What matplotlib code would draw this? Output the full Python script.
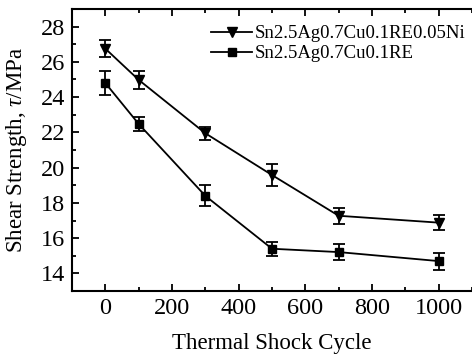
import matplotlib.pyplot as plt
from matplotlib.lines import Line2D
from matplotlib.ticker import MultipleLocator

plt.rcParams['font.family'] = ['Liberation Serif', 'DejaVu Serif']
plt.rcParams['mathtext.fontset'] = 'custom'
plt.rcParams['mathtext.it'] = 'Liberation Serif:italic'
plt.rcParams['mathtext.rm'] = 'Liberation Serif'

cycles = [0, 100, 300, 500, 700, 1000]
ni_mean = [26.75, 24.98, 21.95, 19.58, 17.27, 16.88]
ni_err = [0.5, 0.5, 0.38, 0.6, 0.45, 0.44]
re_mean = [24.8, 22.48, 18.4, 15.4, 15.21, 14.7]
re_err = [0.68, 0.4, 0.6, 0.4, 0.44, 0.48]
labels = ['Sn2.5Ag0.7Cu0.1RE0.05Ni', 'Sn2.5Ag0.7Cu0.1RE']

fig = plt.figure(figsize=(4.72, 3.58), dpi=100)
ax = fig.add_axes([0.1525, 0.187, 0.8475, 0.788])

ax.errorbar(cycles, ni_mean, yerr=ni_err, color='black', lw=1.3, marker='v',
            ms=7, capsize=4, elinewidth=1.3, capthick=1.3)
ax.errorbar(cycles, re_mean, yerr=re_err, color='black', lw=1.3, marker='s',
            ms=6, capsize=4, elinewidth=1.3, capthick=1.3)

ax.set_xlim(-100, 1100)
ax.set_ylim(13, 29)
ax.xaxis.set_major_locator(MultipleLocator(200))
ax.xaxis.set_minor_locator(MultipleLocator(100))
ax.yaxis.set_major_locator(MultipleLocator(2))
ax.yaxis.set_minor_locator(MultipleLocator(1))
ax.tick_params(which='both', direction='in', top=True, right=False, labelsize=17.5, width=1.3)
ax.tick_params(which='major', length=5, pad=5)
ax.tick_params(which='minor', length=3)
for s in ['left', 'bottom', 'top']:
    ax.spines[s].set_linewidth(1.5)
ax.spines['right'].set_visible(False)

ax.set_xlabel('Thermal Shock Cycle', fontsize=16.5, labelpad=10)
ax.set_ylabel(r'Shear Strength, $\it{\tau}$/MPa', fontsize=16.5, labelpad=8)

handles = [Line2D([], [], color='black', lw=1.3, marker='v', ms=7),
           Line2D([], [], color='black', lw=1.3, marker='s', ms=6)]
ax.legend(handles, labels, loc='upper left', bbox_to_anchor=(0.31, 0.995), frameon=False,
          fontsize=13.5, handlelength=2.2, handletextpad=0.15, labelspacing=0.15,
          borderpad=0.3)

fig.savefig('out.png', dpi=100)
